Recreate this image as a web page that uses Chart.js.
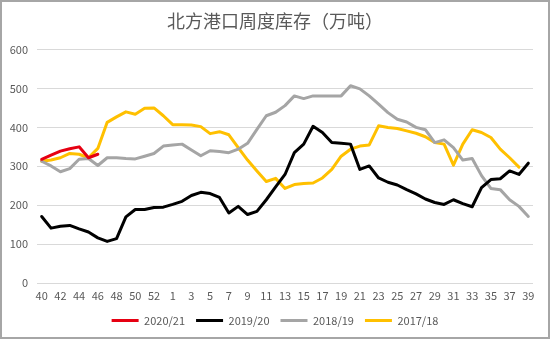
<!DOCTYPE html>
<html>
<head>
<meta charset="utf-8">
<script src="https://cdn.jsdelivr.net/npm/chart.js@4/dist/chart.umd.min.js"></script>
<style>
  html, body { margin: 0; padding: 0; background: #fff; }
  #wrap { width: 550px; height: 339px; }
</style>
</head>
<body>
<div id="wrap"><canvas id="c" width="550" height="339"></canvas></div>
<script>
// Week numbers of the season: week 40 through 53, then 1 through 39
const weeks = [40,41,42,43,44,45,46,47,48,49,50,51,52,53,
  1,2,3,4,5,6,7,8,9,10,11,12,13,14,15,16,17,18,19,20,
  21,22,23,24,25,26,27,28,29,30,31,32,33,34,35,36,37,38,39];

const seriesNames = ['2020/21', '2019/20', '2018/19', '2017/18'];

// Port inventory, 10k tonnes
const s2020 = [318, 329, 339, 345, 350, 322, 331];
const s2019 = [171, 141, 146, 148, 139, 131, 116, 107, 114, 170, 189, 189, 194, 195,
  202, 210, 225, 233, 230, 220, 180, 197, 176, 184, 214, 247, 279, 335, 357, 403,
  387, 361, 359, 357, 292, 301, 270, 259, 252, 240, 229, 216, 207, 202, 214, 204,
  196, 245, 266, 268, 288, 279, 308];
const s2018 = [313, 301, 286, 294, 318, 320, 302, 322, 322, 320, 319, 326, 333, 352,
  355, 357, 342, 327, 340, 338, 335, 344, 359, 395, 430, 439, 456, 481, 474, 481,
  481, 481, 481, 507, 499, 481, 460, 438, 421, 414, 400, 394, 361, 368, 348, 316,
  320, 276, 243, 240, 214, 197, 171];
const s2017 = [313, 316, 322, 333, 331, 322, 346, 413, 427, 440, 434, 449, 450, 430,
  407, 407, 406, 402, 384, 389, 381, 348, 316, 288, 261, 269, 243, 253, 256, 257,
  270, 292, 326, 344, 352, 355, 404, 400, 397, 391, 385, 376, 361, 357, 303, 357,
  394, 387, 374, 344, 322, 298];

const yTicks = [0, 100, 200, 300, 400, 500, 600];

const colors = ['#e60012', '#000000', '#a5a5a5', '#ffc000'];
const values = [s2020, s2019, s2018, s2017];

const textColor = '#595959';
const fontFamily = '"Noto Sans CJK SC", "Noto Sans", sans-serif';

const datasets = values.map((v, k) => ({
  label: seriesNames[k],
  data: v,
  borderColor: colors[k],
  backgroundColor: colors[k],
  borderWidth: 3,
  pointRadius: 0,
  pointHoverRadius: 0,
  tension: 0,
  borderJoinStyle: 'round',
  borderCapStyle: 'round',
  fill: false
}));

// White background and the thin grey frame around the whole chart
const frame = {
  id: 'frame',
  beforeDraw(chart) {
    const ctx = chart.ctx;
    ctx.save();
    ctx.fillStyle = '#ffffff';
    ctx.fillRect(0, 0, chart.width, chart.height);
    ctx.restore();
  },
  afterDraw(chart) {
    const ctx = chart.ctx;
    ctx.save();
    ctx.strokeStyle = '#a6a6a6';
    ctx.lineWidth = 2;
    ctx.strokeRect(1, 1, chart.width - 2, chart.height - 2);
    ctx.restore();
  }
};

new Chart(document.getElementById('c'), {
  type: 'line',
  data: { labels: weeks, datasets },
  plugins: [frame],
  options: {
    responsive: false,
    animation: false,
    layout: { padding: { left: 0, right: 0, top: 0, bottom: 3 } },
    plugins: {
      title: {
        display: true,
        text: '北方港口周度库存（万吨）',
        color: textColor,
        font: { family: fontFamily, size: 18, weight: 'normal' },
        padding: { top: 10, bottom: 18 }
      },
      legend: {
        position: 'bottom',
        labels: {
          color: textColor,
          font: { family: fontFamily, size: 11 },
          boxWidth: 27,
          boxHeight: 3,
          padding: 11,
          generateLabels(chart) {
            const items = Chart.defaults.plugins.legend.labels.generateLabels(chart);
            items.forEach(it => { it.lineWidth = 0; it.fillStyle = it.strokeStyle; });
            return items;
          }
        }
      },
      tooltip: { enabled: false }
    },
    scales: {
      x: {
        type: 'category',
        offset: true,
        grid: { display: false, drawTicks: false },
        border: { display: false },
        ticks: {
          autoSkip: false,
          maxRotation: 0,
          minRotation: 0,
          padding: 6,
          color: textColor,
          font: { family: fontFamily, size: 11 },
          callback(value, index) { return index % 2 === 0 ? weeks[index] : ''; }
        },
        afterFit(scale) { scale.height = 21; }
      },
      y: {
        min: 0,
        max: 600,
        afterBuildTicks(scale) { scale.ticks = yTicks.map(v => ({ value: v })); },
        grid: { color: '#d9d9d9', lineWidth: 1, drawTicks: false },
        border: { display: false },
        ticks: {
          padding: 9,
          color: textColor,
          font: { family: fontFamily, size: 11 }
        },
        afterFit(scale) { scale.width = 37; }
      },
      // Empty right-hand margin so the plot sits symmetrically under the title
      yRight: {
        position: 'right',
        min: 0,
        max: 600,
        grid: { display: false, drawTicks: false },
        border: { display: false },
        ticks: { display: false },
        afterFit(scale) { scale.width = 17; }
      }
    }
  }
});
</script>
</body>
</html>
